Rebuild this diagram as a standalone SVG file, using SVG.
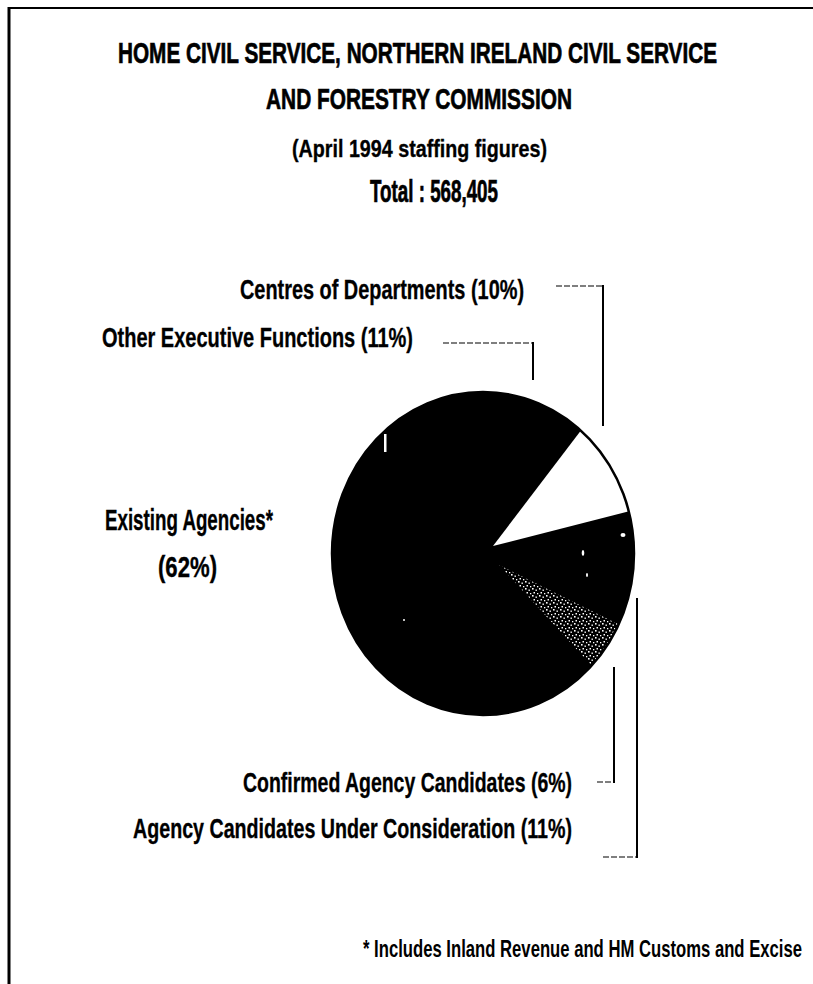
<svg xmlns="http://www.w3.org/2000/svg" width="813" height="984" viewBox="0 0 813 984">
  <style>
    .t { font-family: "Liberation Sans", Arial, sans-serif; font-weight: bold; fill: #000; }
    .heavy { stroke: #000; stroke-width: 0.7; }
    .mid { stroke: #000; stroke-width: 0.35; }
    .lead { stroke: #000; fill: none; }
    .h { stroke-width: 1.2; stroke-dasharray: 6 2; }
    .v { stroke-width: 2; }
  </style>
  <defs>
    <clipPath id="pieClip">
      <ellipse cx="483" cy="553.5" rx="151" ry="161.5"/>
    </clipPath>
    <pattern id="stipple" width="7" height="7" patternUnits="userSpaceOnUse">
      <rect width="7" height="7" fill="#000"/>
      <rect x="0" y="0" width="1.6" height="1.6" fill="#fff"/>
      <rect x="3.5" y="1.5" width="1.4" height="1.4" fill="#fff"/>
      <rect x="1.5" y="4" width="1.5" height="1.5" fill="#fff"/>
      <rect x="5" y="5" width="1.3" height="1.3" fill="#fff"/>
    </pattern>
  </defs>
  <rect width="813" height="984" fill="#fff"/>

  <!-- frame -->
  <g id="frame" stroke="#000" fill="none">
    <line x1="9" y1="8" x2="813" y2="8" stroke-width="2"/>
    <line x1="9" y1="7" x2="9" y2="984" stroke-width="3"/>
  </g>

  <!-- titles -->
  <g id="title">
    <text class="t heavy" x="118" y="63" font-size="29.5" textLength="599" lengthAdjust="spacingAndGlyphs">HOME CIVIL SERVICE, NORTHERN IRELAND CIVIL SERVICE</text>
    <text class="t heavy" x="266" y="109" font-size="29.5" textLength="306" lengthAdjust="spacingAndGlyphs">AND FORESTRY COMMISSION</text>
    <text class="t mid" x="292" y="157" font-size="24.5" textLength="255" lengthAdjust="spacingAndGlyphs">(April 1994 staffing figures)</text>
    <text class="t heavy" x="370" y="202" font-size="30.5" textLength="128" lengthAdjust="spacingAndGlyphs">Total : 568,405</text>
  </g>

  <!-- pie -->
  <g id="pie">
    <ellipse cx="483" cy="553.5" rx="151" ry="161.5" fill="#000"/>
    <g clip-path="url(#pieClip)">
      <path id="slice-centres" d="M493,546 L665,320 L760,320 L760,478 Z" fill="#fff"/>
      <path id="slice-confirmed" d="M499,565 L725,677 L760,800 L720,805 Z" fill="url(#stipple)"/>
    </g>
    <ellipse cx="483" cy="553.5" rx="151" ry="161.5" fill="none" stroke="#000" stroke-width="2.5"/>
    <g fill="#fff">
      <rect x="384" y="434" width="2.5" height="18"/>
      <ellipse cx="623" cy="535" rx="2.5" ry="2"/>
      <ellipse cx="583" cy="553" rx="1.3" ry="3"/>
      <ellipse cx="587" cy="575" rx="1" ry="2"/>
      <circle cx="404" cy="620" r="1"/>
    </g>
  </g>

  <!-- labels -->
  <g id="label-centres"><text class="t mid" x="240" y="299" font-size="28.5" textLength="284" lengthAdjust="spacingAndGlyphs">Centres of Departments (10%)</text></g>
  <g id="label-other"><text class="t mid" x="102" y="347" font-size="28.5" textLength="311" lengthAdjust="spacingAndGlyphs">Other Executive Functions (11%)</text></g>
  <g id="label-existing">
    <text class="t mid" x="105" y="530" font-size="29" textLength="168" lengthAdjust="spacingAndGlyphs">Existing Agencies*</text>
    <text class="t mid" x="158" y="577" font-size="29" textLength="59" lengthAdjust="spacingAndGlyphs">(62%)</text>
  </g>
  <g id="label-confirmed"><text class="t mid" x="243" y="792" font-size="28.5" textLength="329" lengthAdjust="spacingAndGlyphs">Confirmed Agency Candidates (6%)</text></g>
  <g id="label-consideration"><text class="t mid" x="133" y="838" font-size="28.5" textLength="439" lengthAdjust="spacingAndGlyphs">Agency Candidates Under Consideration (11%)</text></g>
  <g id="footnote"><text class="t" x="363" y="957" font-size="24" textLength="439" lengthAdjust="spacingAndGlyphs">* Includes Inland Revenue and HM Customs and Excise</text></g>

  <!-- connectors -->
  <g id="connectors" class="lead">
    <line class="lead h" x1="556" y1="286" x2="603" y2="286"/>
    <line class="lead v" x1="603" y1="285" x2="603" y2="426"/>
    <line class="lead h" x1="443" y1="343" x2="533" y2="343"/>
    <line class="lead v" x1="533" y1="342" x2="533" y2="380"/>
    <line class="lead v" x1="614" y1="667" x2="614" y2="783"/>
    <line class="lead h" x1="597" y1="782" x2="614" y2="782"/>
    <line class="lead v" x1="637" y1="598" x2="637" y2="858"/>
    <line class="lead h" x1="603" y1="857" x2="637" y2="857"/>
  </g>
</svg>
